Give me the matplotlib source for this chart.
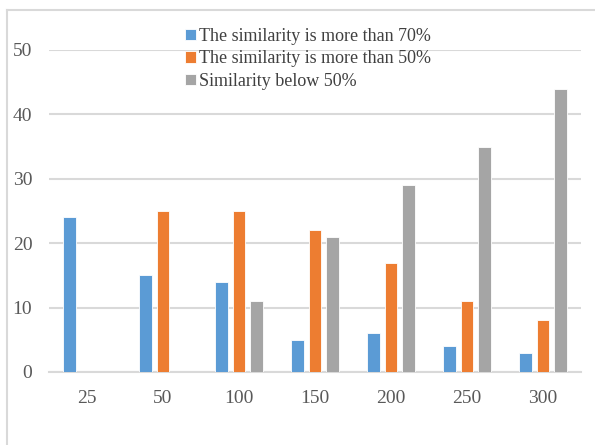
import matplotlib.pyplot as plt
import numpy as np
from matplotlib.lines import Line2D

categories = ["25", "50", "100", "150", "200", "250", "300"]
above_70 = [24, 15, 14, 5, 6, 4, 3]
above_50 = [0, 25, 25, 22, 17, 11, 8]
below_50 = [0, 0, 11, 21, 29, 35, 44]
labels = ["The similarity is more than 70%",
          "The similarity is more than 50%",
          "Similarity below 50%"]
colors = ["#5B9BD5", "#ED7D31", "#A5A5A5"]

plt.rcParams['font.family'] = ['Liberation Serif', 'DejaVu Serif']

fig = plt.figure(figsize=(5.95, 4.45), dpi=100)
ax = fig.add_axes([49 / 595, 73 / 445, 532 / 595, 322 / 445])

x = np.arange(len(categories))
width = 0.17
step = 0.225
for i, (vals, c, lab) in enumerate(zip([above_70, above_50, below_50], colors, labels)):
    ax.bar(x + (i - 1) * step, vals, width, color=c, label=lab,
           edgecolor="white", linewidth=0.6, zorder=3)

ax.set_xlim(-0.5, len(categories) - 0.5)
ax.set_ylim(0, 50)
ax.set_yticks(range(0, 51, 10))
ax.set_xticks(x)
ax.set_xticklabels(categories)
ax.grid(axis="y", color="#D9D9D9", linewidth=1.5, zorder=0)
ax.tick_params(axis="both", length=0, labelsize=14, labelcolor="#595959")
ax.tick_params(axis="x", pad=13)
ax.tick_params(axis="y", pad=12)
for s in ["top", "right", "left"]:
    ax.spines[s].set_visible(False)
ax.spines["bottom"].set_color("#D9D9D9")
ax.spines["bottom"].set_linewidth(1.5)

leg = fig.legend(loc="upper left", bbox_to_anchor=(185 / 595, 1 - 28 / 445),
                 frameon=False, fontsize=13, handlelength=0.6, handleheight=0.6,
                 handletextpad=0.2, labelspacing=0.3, borderpad=0,
                 borderaxespad=0)
for t in leg.get_texts():
    t.set_color("#404040")

# chart border (cropped on right and bottom)
fig.add_artist(Line2D([7 / 595, 7 / 595], [0, 1 - 10 / 445], color="#D9D9D9", lw=1.5))
fig.add_artist(Line2D([7 / 595, 1], [1 - 10 / 445, 1 - 10 / 445], color="#D9D9D9", lw=1.5))

fig.savefig("out.png", dpi=100)
